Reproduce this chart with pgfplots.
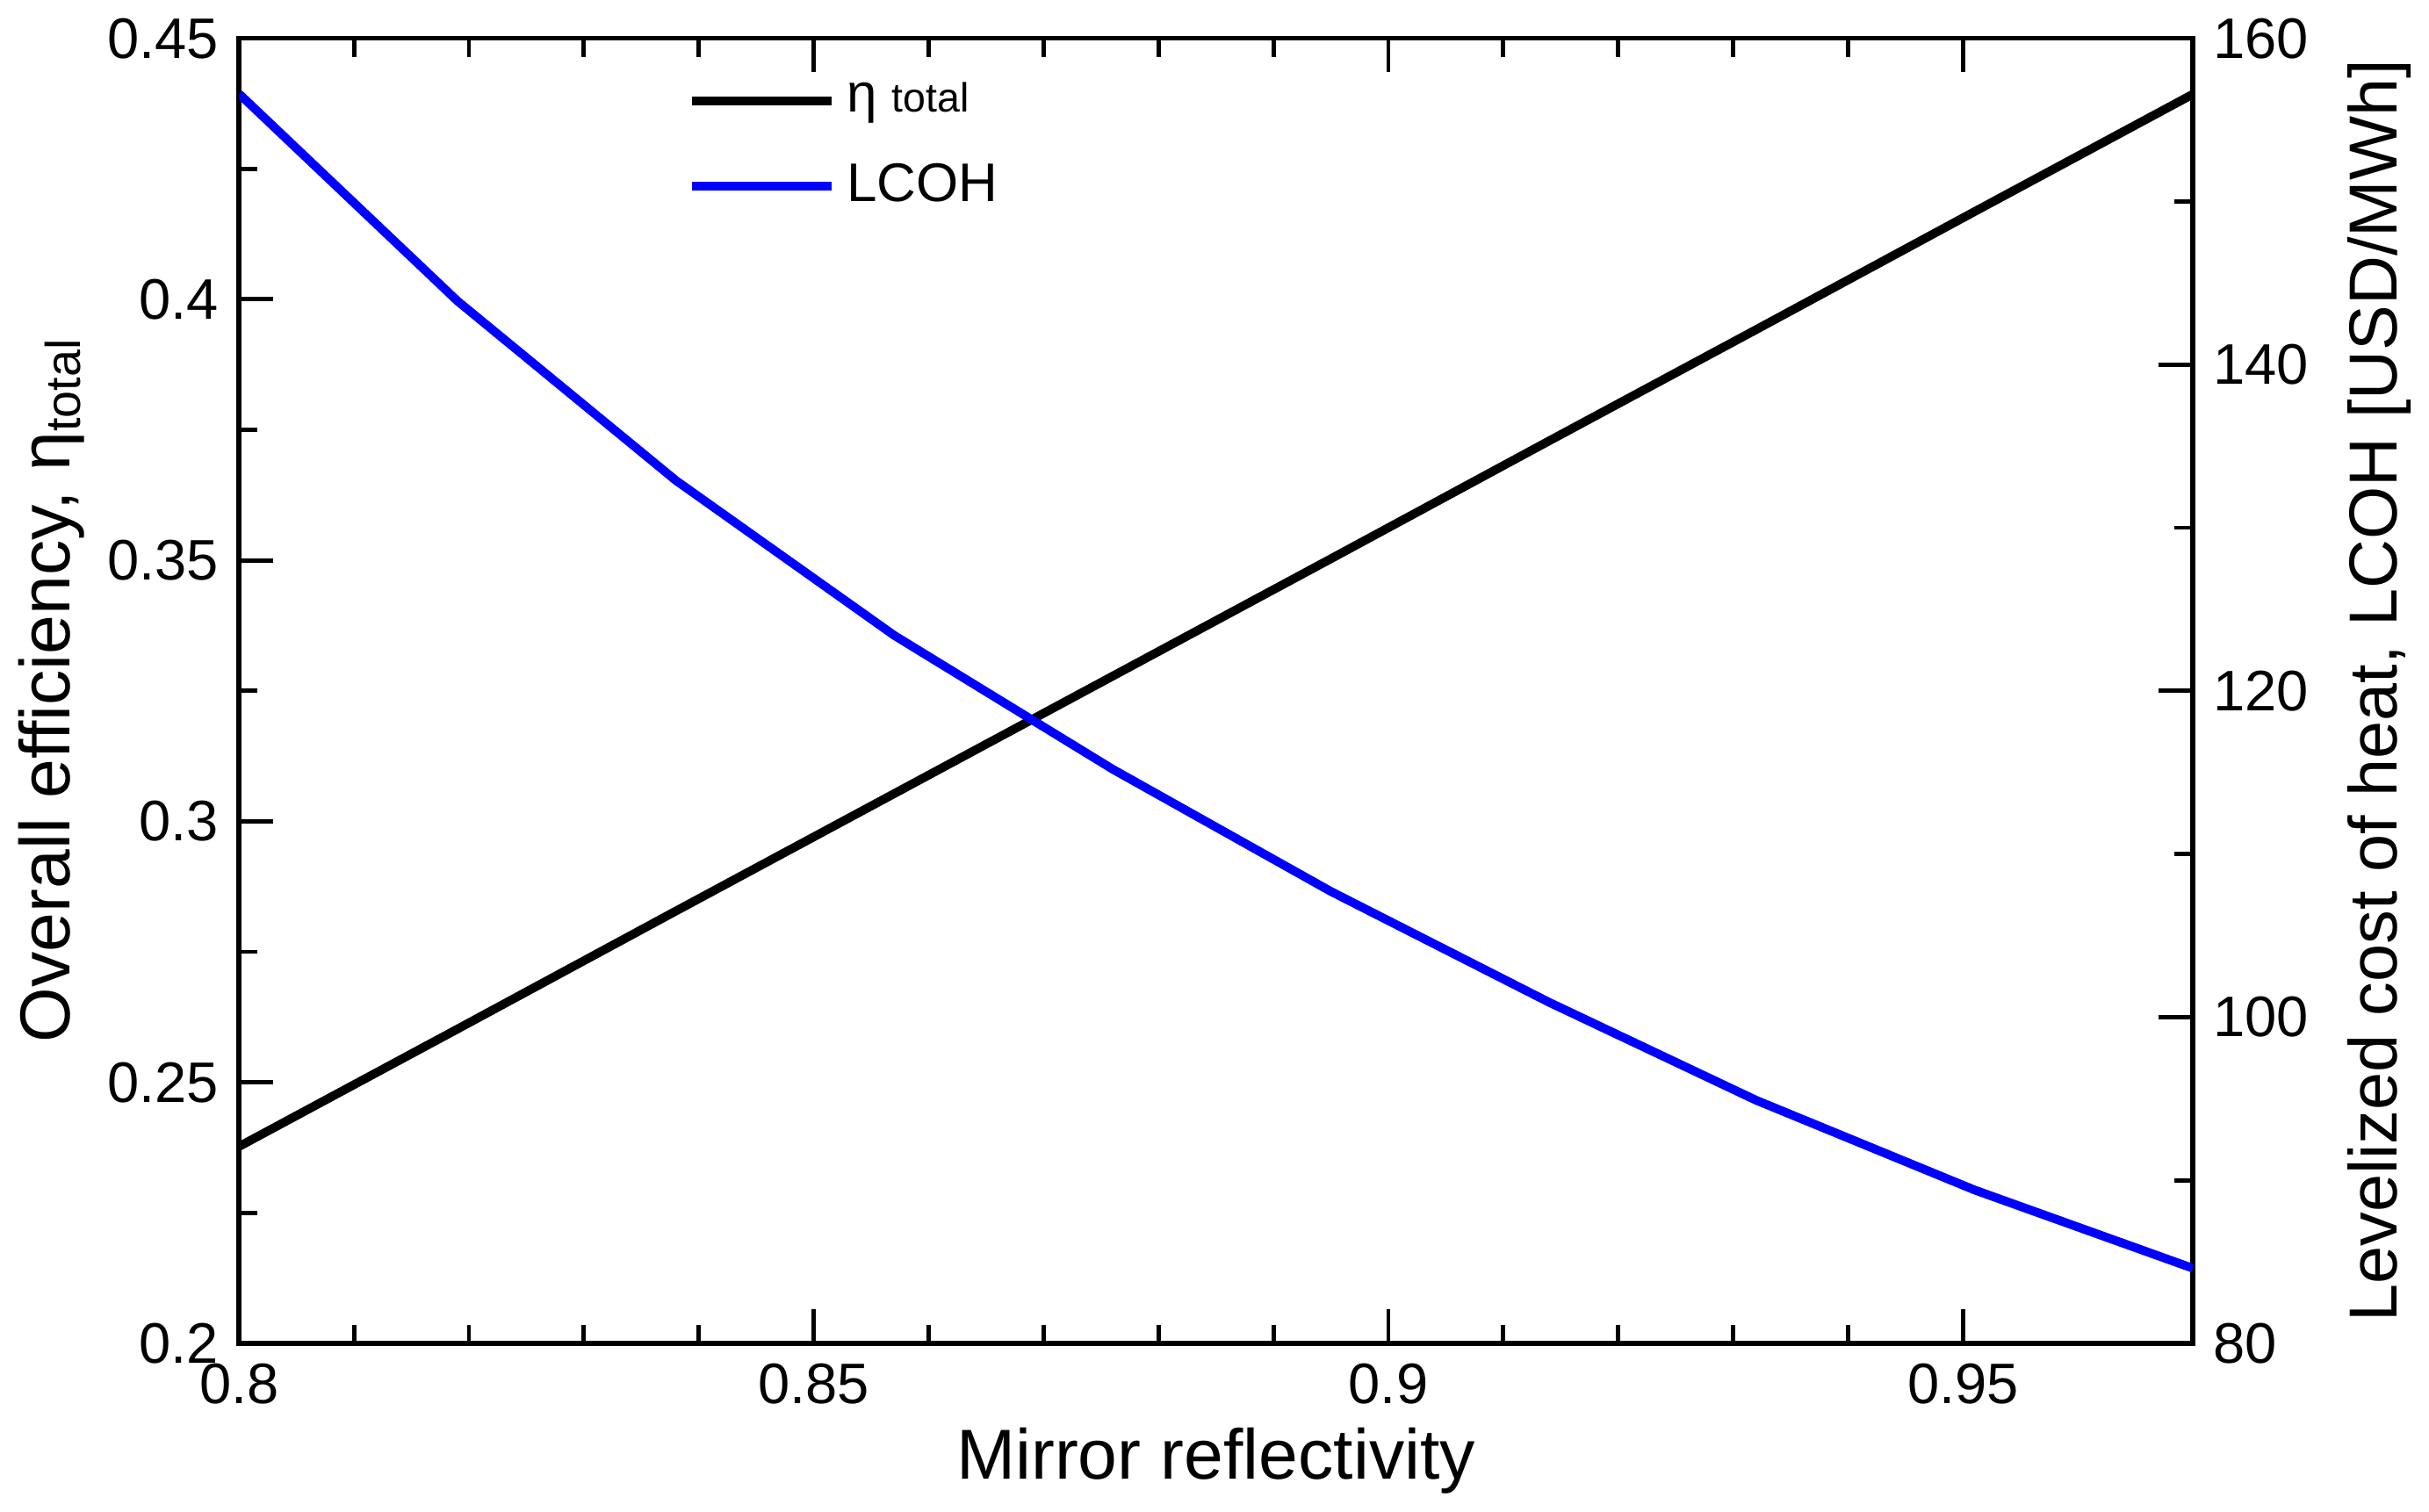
\documentclass[border=0pt]{standalone}
\usepackage{pgfplots}
\pgfplotsset{compat=1.18}
\usepackage{fontspec}
\setmainfont{Liberation Sans}
\begin{document}
\begin{tikzpicture}
\pgfplotsset{every axis/.append style={scale only axis,width=12.62cm,height=8.43cm,
 xmin=0.8,xmax=0.97,tick style={black,thick},major tick length=0.22cm,minor tick length=0.12cm,
 tick label style={font=\fontsize{10.5}{12}\selectfont},
 /pgf/number format/assume math mode=true, line width=0.9pt}}
\begin{axis}[at={(1.6cm,1.17cm)},
 ymin=0.2,ymax=0.45,ytick={0.2,0.25,...,0.45},
 yticklabels={0.2,0.25,0.3,0.35,0.4,0.45},
 xtick={0.8,0.85,0.9,0.95},xticklabels={0.8,0.85,0.9,0.95},
 minor x tick num=4,minor y tick num=1,
 xtick pos=both,ytick pos=left,tick align=inside,
 xlabel={Mirror reflectivity},ylabel={Overall efficiency, η\raisebox{-0.3ex}{\fontsize{9}{10}\selectfont total}},
 label style={font=\fontsize{13}{15}\selectfont},
 ylabel style={yshift=-0.1cm},
 xlabel style={yshift=0.1cm}]
\addplot[black,line width=1.6pt] coordinates {(0.8,0.2377)(0.819,0.2602)(0.838,0.2828)(0.857,0.3053)(0.876,0.3278)(0.895,0.3503)(0.914,0.3729)(0.932,0.3942)(0.951,0.4168)(0.97,0.4393)};
\end{axis}
\begin{axis}[at={(1.6cm,1.17cm)},
 ymin=80,ymax=160,ytick={80,100,...,160},minor y tick num=1,
 axis y line*=right,axis x line=none,tick align=inside,
 ylabel={Levelized cost of heat, LCOH [USD/MWh]},
 label style={font=\fontsize{12.5}{15}\selectfont},
 legend style={draw=none,fill=none,at={(0.22,0.985)},anchor=north west,font=\fontsize{10}{12}\selectfont,row sep=4pt},
 legend cell align=left,
 legend image code/.code={\draw[#1] (0cm,0cm) -- (0.9cm,0cm);}]
\addlegendimage{black,line width=1.6pt,mark=none}
\addlegendentry{η {\fontsize{7.5}{9}\selectfont total}}
\addplot[blue,line width=1.6pt] coordinates {(0.8,156.6)(0.819,143.9)(0.838,132.9)(0.857,123.4)(0.876,115.2)(0.895,107.7)(0.914,100.9)(0.932,94.9)(0.951,89.4)(0.97,84.6)};
\addlegendentry{LCOH}
\end{axis}
\end{tikzpicture}
\end{document}
